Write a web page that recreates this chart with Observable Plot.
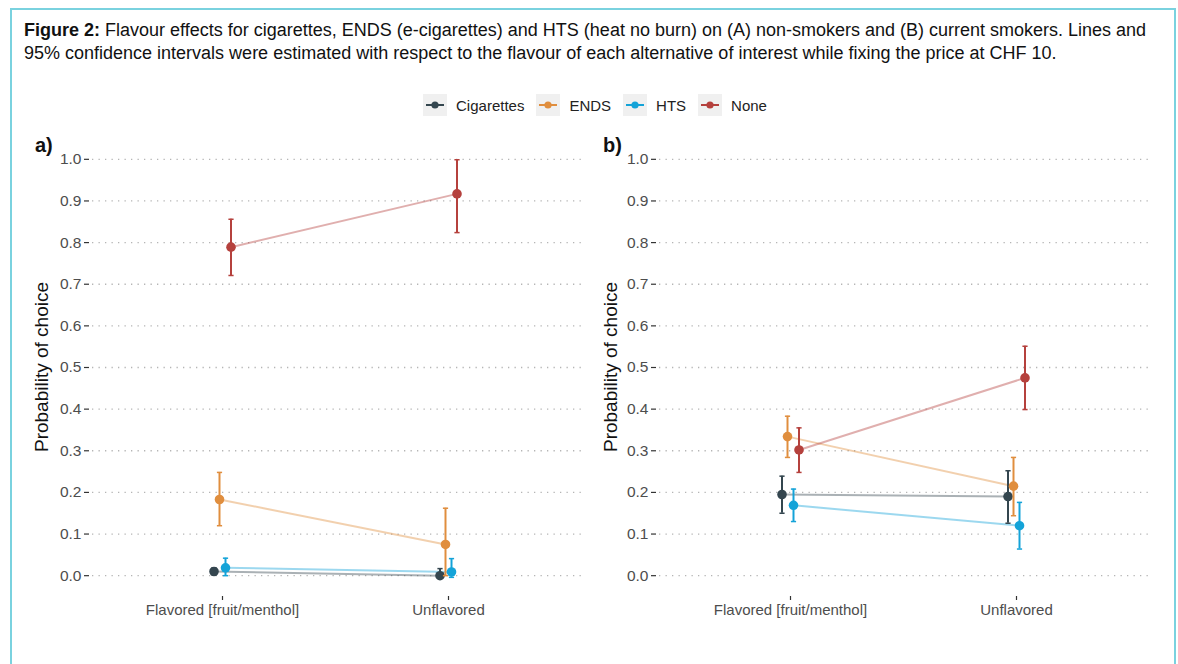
<!DOCTYPE html>
<html>
<head>
<meta charset="utf-8">
<script src="https://cdn.jsdelivr.net/npm/d3@7"></script>
<script src="https://cdn.jsdelivr.net/npm/@observablehq/plot@0.6"></script>
<style>
  body { margin: 0; background: #fff; font-family: "Liberation Sans", Arial, sans-serif; }
  #frame { position: absolute; left: 10px; top: 8px; width: 1162px; height: 720px;
           border: 2px solid #7ad2df; border-bottom: none; }
  #title { position: absolute; left: 24px; top: 19px; width: 1150px; font-size: 18px; line-height: 23px; color: #111; }
  #title div { white-space: nowrap; }
  #legend { position: absolute; top: 94px; left: 0; width: 1190px; display: flex; justify-content: center;
            align-items: center; font-size: 15px; color: #222; }
  .item { display: flex; align-items: center; margin: 0 6px; }
  .key { width: 24px; height: 22px; background: #f0f0f0; margin-right: 9px; }
  .panel { position: absolute; top: 130px; }
  .tag { position: absolute; top: 134px; font-weight: bold; font-size: 20px; color: #111; }
  .ylab { position: absolute; font-size: 19px; color: #111; transform: translate(-50%, -50%) rotate(-90deg);
          white-space: nowrap; top: 367px; }
</style>
</head>
<body>
<div id="frame"></div>
<div id="title"><div><b>Figure 2:</b><span> Flavour effects for cigarettes, ENDS (e-cigarettes) and HTS (heat no burn) on (A) non-smokers and (B) current smokers. Lines and</span></div><div>95% confidence intervals were estimated with respect to the flavour of each alternative of interest while fixing the price at CHF 10.</div></div>
<div id="legend"></div>
<div class="tag" style="left:35px">a)</div>
<div class="tag" style="left:603px">b)</div>
<div class="ylab" style="left:42px">Probability of choice</div>
<div class="ylab" style="left:611px">Probability of choice</div>
<div id="pa" class="panel" style="left:22px"></div>
<div id="pb" class="panel" style="left:590px"></div>
<script>
// ---- data ----
const categories = ["Flavored [fruit/menthol]", "Unflavored"];
const series = ["Cigarettes", "ENDS", "HTS", "None"];
const colors = ["#34464f", "#e08e3e", "#14a3d8", "#b5413d"];
const yTicks = [0, 0.1, 0.2, 0.3, 0.4, 0.5, 0.6, 0.7, 0.8, 0.9, 1.0];

// panel a: non-smokers (values per category: Flavored, Unflavored)
const aCigMean = [0.010, 0.000], aCigLow = [0.002, -0.006], aCigHigh = [0.019, 0.017];
const aEndsMean = [0.183, 0.075], aEndsLow = [0.120, 0.000], aEndsHigh = [0.248, 0.162];
const aHtsMean = [0.019, 0.009], aHtsLow = [0.000, -0.004], aHtsHigh = [0.042, 0.041];
const aNoneMean = [0.789, 0.917], aNoneLow = [0.721, 0.824], aNoneHigh = [0.856, 0.999];

// panel b: current smokers
const bCigMean = [0.195, 0.190], bCigLow = [0.150, 0.126], bCigHigh = [0.239, 0.252];
const bEndsMean = [0.334, 0.215], bEndsLow = [0.284, 0.144], bEndsHigh = [0.383, 0.284];
const bHtsMean = [0.169, 0.120], bHtsLow = [0.130, 0.064], bHtsHigh = [0.208, 0.176];
const bNoneMean = [0.302, 0.475], bNoneLow = [0.248, 0.399], bNoneHigh = [0.355, 0.551];

const panelA = [[aCigMean, aCigLow, aCigHigh], [aEndsMean, aEndsLow, aEndsHigh],
                [aHtsMean, aHtsLow, aHtsHigh], [aNoneMean, aNoneLow, aNoneHigh]];
const panelB = [[bCigMean, bCigLow, bCigHigh], [bEndsMean, bEndsLow, bEndsHigh],
                [bHtsMean, bHtsLow, bHtsHigh], [bNoneMean, bNoneLow, bNoneHigh]];

const dodge = [-8.5, -3, 3, 8.5];

const capSymbol = { draw(ctx, size) { const r = Math.sqrt(size / Math.PI); ctx.moveTo(-r, 0); ctx.lineTo(r, 0); } };

function build(panel, opts) {
  const rows = panel.map((s, i) => categories.map((c, j) => ({
    series: series[i], cat: c, mean: s[0][j], low: s[1][j], high: s[2][j]
  })));
  const marks = [
    Plot.ruleY(yTicks, { stroke: "#b5b5b5", strokeWidth: 1.3, strokeDasharray: "1.3,5.2", insetLeft: 3 }),
    Plot.axisY({ ticks: yTicks, tickFormat: d3.format(".1f"), tickSize: 5, tickPadding: 3, fontSize: 15.5,
                 fill: "#4d4d4d", stroke: "#333", strokeWidth: 1.2, label: null }),
    Plot.axisX({ tickSize: 4, tickPadding: 4, fontSize: 15, fill: "#4d4d4d", stroke: "#333", strokeWidth: 1.2, label: null })
  ];
  rows.forEach((d, i) => {
    marks.push(Plot.line(d, { x: "cat", y: "mean", dx: dodge[i], stroke: colors[i], strokeOpacity: 0.42, strokeWidth: 2 }));
  });
  rows.forEach((d, i) => {
    marks.push(Plot.ruleX(d, { x: "cat", y1: "low", y2: "high", dx: dodge[i], stroke: colors[i], strokeWidth: 2 }));
    marks.push(Plot.dot(d, { x: "cat", y: "low", dx: dodge[i], symbol: capSymbol, r: 2.6, fill: "none", stroke: colors[i], strokeWidth: 1.5 }));
    marks.push(Plot.dot(d, { x: "cat", y: "high", dx: dodge[i], symbol: capSymbol, r: 2.6, fill: "none", stroke: colors[i], strokeWidth: 1.5 }));
    marks.push(Plot.dot(d, { x: "cat", y: "mean", dx: dodge[i], r: 4.8, fill: colors[i], stroke: "none" }));
  });
  return Plot.plot({
    width: opts.width, height: 500,
    marginLeft: opts.ml, marginRight: 5, marginTop: 8, marginBottom: 34,
    style: { fontFamily: "Liberation Sans, Arial, sans-serif", background: "transparent", overflow: "visible" },
    x: { type: "point", domain: categories, padding: 0, insetLeft: opts.il, insetRight: opts.ir, axis: null },
    y: { domain: [-0.05, 1.05], axis: null },
    marks
  });
}

document.getElementById("pa").append(build(panelA, { width: 568, ml: 67, il: 133, ir: 137 }));
document.getElementById("pb").append(build(panelB, { width: 565, ml: 66, il: 134, ir: 134 }));

// legend
const leg = document.getElementById("legend");
series.forEach((s, i) => {
  const it = document.createElement("div");
  it.className = "item";
  it.innerHTML = `<div class="key"><svg width="24" height="22"><line x1="3" x2="21" y1="11" y2="11" stroke="${colors[i]}" stroke-width="2"/><circle cx="12" cy="11" r="3.6" fill="${colors[i]}"/></svg></div><span>${s}</span>`;
  leg.append(it);
});
</script>
</body>
</html>
